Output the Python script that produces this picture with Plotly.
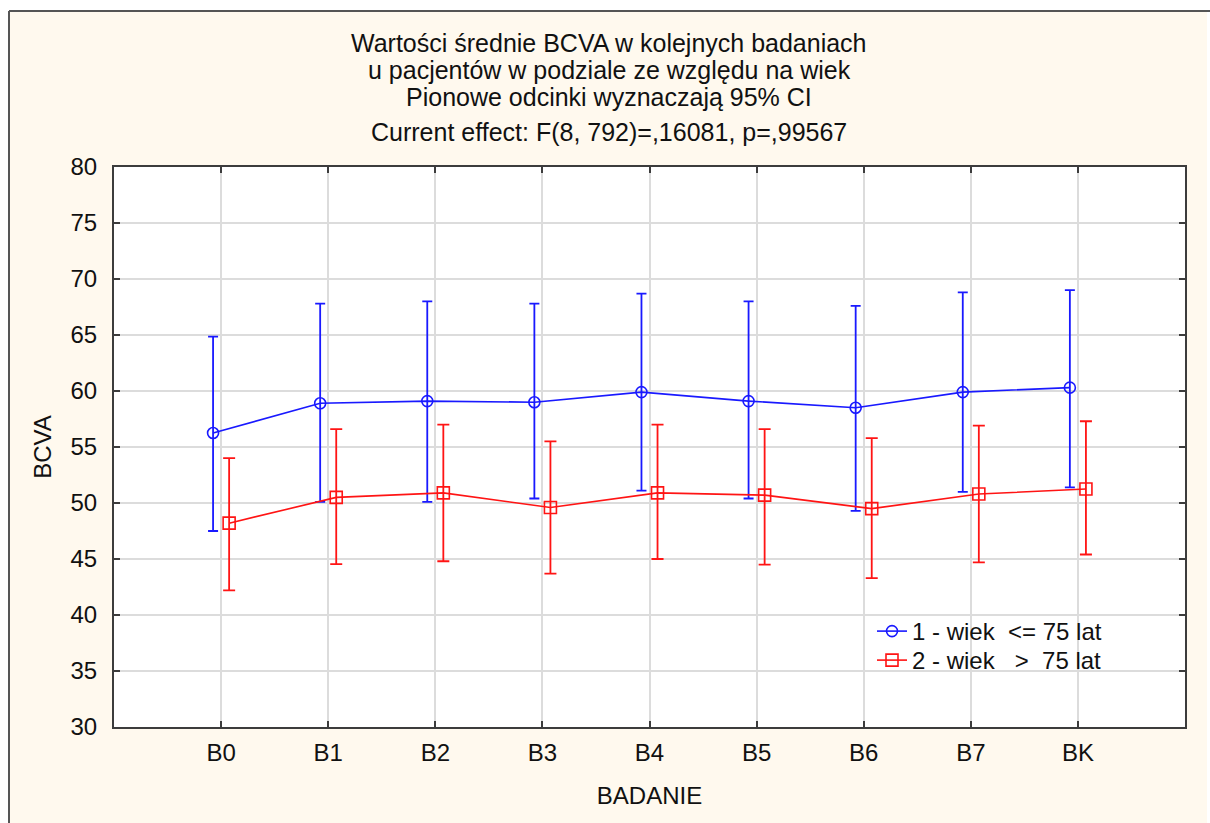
import plotly.graph_objects as go

categories = ["B0", "B1", "B2", "B3", "B4", "B5", "B6", "B7", "BK"]

young_name = "1 - wiek  <= 75 lat"
young_mean = [56.25, 58.9, 59.1, 59.0, 59.9, 59.1, 58.5, 59.9, 60.3]
young_upper = [64.85, 67.8, 68.0, 67.8, 68.7, 68.0, 67.6, 68.8, 69.0]
young_lower = [47.5, 50.1, 50.1, 50.4, 51.1, 50.4, 49.3, 51.0, 51.4]

old_name = "2 - wiek   >  75 lat"
old_mean = [48.2, 50.5, 50.9, 49.6, 50.9, 50.7, 49.5, 50.8, 51.25]
old_upper = [54.0, 56.6, 57.0, 55.5, 57.0, 56.6, 55.8, 56.9, 57.3]
old_lower = [42.2, 44.55, 44.8, 43.7, 45.0, 44.5, 43.3, 44.7, 45.4]

title_lines = [
    "Wartości średnie BCVA w kolejnych badaniach",
    "u pacjentów w podziale ze względu na wiek",
    "Pionowe odcinki wyznaczają 95% CI",
    "Current effect: F(8, 792)=,16081, p=,99567",
]
y_ticks = [30, 35, 40, 45, 50, 55, 60, 65, 70, 75, 80]

FONT = "Liberation Sans, Arial, sans-serif"
BLUE = "rgb(25,25,255)"
RED = "rgb(255,20,20)"
DARK = "#3c3c3c"
GRID = "#dcdcdc"
CREAM = "#fff9ee"
TXT = "#111111"

# page geometry (px)
W, H = 1210, 823
L, R, T, B = 114, 25, 167, 96
PW, PH = W - L - R, H - T - B


def px_x(x):
    return (x - L) / PW


def px_y(y):
    return (H - B - y) / PH


pos = list(range(1, len(categories) + 1))
offset = 0.075

fig = go.Figure()
fig.add_trace(go.Scatter(
    x=[p - offset for p in pos], y=young_mean, name=young_name,
    mode="lines+markers", legend="legend",
    line=dict(color=BLUE, width=1.6),
    marker=dict(symbol="circle-open", size=11, color=BLUE, line=dict(width=1.6, color=BLUE)),
    error_y=dict(type="data", symmetric=False,
                 array=[u - m for u, m in zip(young_upper, young_mean)],
                 arrayminus=[m - l for m, l in zip(young_mean, young_lower)],
                 color=BLUE, thickness=1.8, width=5),
))
fig.add_trace(go.Scatter(
    x=[p + offset for p in pos], y=old_mean, name=old_name,
    mode="lines+markers", legend="legend2",
    line=dict(color=RED, width=1.6),
    marker=dict(symbol="square-open", size=12, color=RED, line=dict(width=1.6, color=RED)),
    error_y=dict(type="data", symmetric=False,
                 array=[u - m for u, m in zip(old_upper, old_mean)],
                 arrayminus=[m - l for m, l in zip(old_mean, old_lower)],
                 color=RED, thickness=1.8, width=6),
))

shapes = [
    dict(type="rect", xref="paper", yref="paper", layer="below",
         x0=px_x(9), x1=px_x(1207), y0=px_y(H + 10), y1=px_y(11),
         fillcolor=CREAM, line=dict(width=0)),
    dict(type="rect", xref="paper", yref="paper", layer="below",
         x0=0, x1=1, y0=0, y1=1, fillcolor="white", line=dict(width=0)),
    dict(type="line", xref="paper", yref="paper", layer="above",
         x0=px_x(9), x1=px_x(W + 5), y0=px_y(11), y1=px_y(11),
         line=dict(color="#555555", width=2)),
    dict(type="line", xref="paper", yref="paper", layer="above",
         x0=px_x(9), x1=px_x(9), y0=px_y(11), y1=px_y(H + 10),
         line=dict(color="#555555", width=2)),
]

title_y = [43, 70, 97, 132]
annotations = [
    dict(text=t, xref="paper", yref="paper", x=px_x(609), y=px_y(yy),
         xanchor="center", yanchor="middle", showarrow=False,
         font=dict(family=FONT, size=25, color=TXT))
    for t, yy in zip(title_lines, title_y)
]

legend_common = dict(xanchor="left", yanchor="top", bgcolor="rgba(0,0,0,0)",
                     borderwidth=0, font=dict(family=FONT, size=24, color=TXT))

fig.update_layout(
    width=W, height=H, autosize=False,
    margin=dict(l=L, r=R, t=T, b=B, pad=0),
    paper_bgcolor="white", plot_bgcolor="white",
    font=dict(family=FONT, size=24, color=TXT),
    shapes=shapes, annotations=annotations,
    showlegend=True,
    legend=dict(x=px_x(872), y=px_y(609), **legend_common),
    legend2=dict(x=px_x(872), y=px_y(638), **legend_common),
)

fig.update_xaxes(
    range=[0, len(categories) + 1], tickmode="array", tickvals=pos, ticktext=categories,
    showgrid=True, gridcolor=GRID, gridwidth=1.5, zeroline=False,
    showline=True, linecolor=DARK, linewidth=2, mirror="ticks",
    ticks="inside", ticklen=6, tickwidth=1.5, tickcolor=DARK,
    tickfont=dict(family=FONT, size=24, color=TXT), ticklabelstandoff=3,
    title=dict(text="BADANIE", font=dict(family=FONT, size=24, color=TXT), standoff=22),
)
fig.update_yaxes(
    range=[30, 80], tickmode="array", tickvals=y_ticks,
    showgrid=True, gridcolor=GRID, gridwidth=1.5, zeroline=False,
    showline=True, linecolor=DARK, linewidth=2, mirror="ticks",
    ticks="inside", ticklen=6, tickwidth=1.5, tickcolor=DARK,
    tickfont=dict(family=FONT, size=24, color=TXT), ticklabelstandoff=10,
    title=dict(text="BCVA", font=dict(family=FONT, size=24, color=TXT), standoff=12),
)

fig.write_html("out.html")
